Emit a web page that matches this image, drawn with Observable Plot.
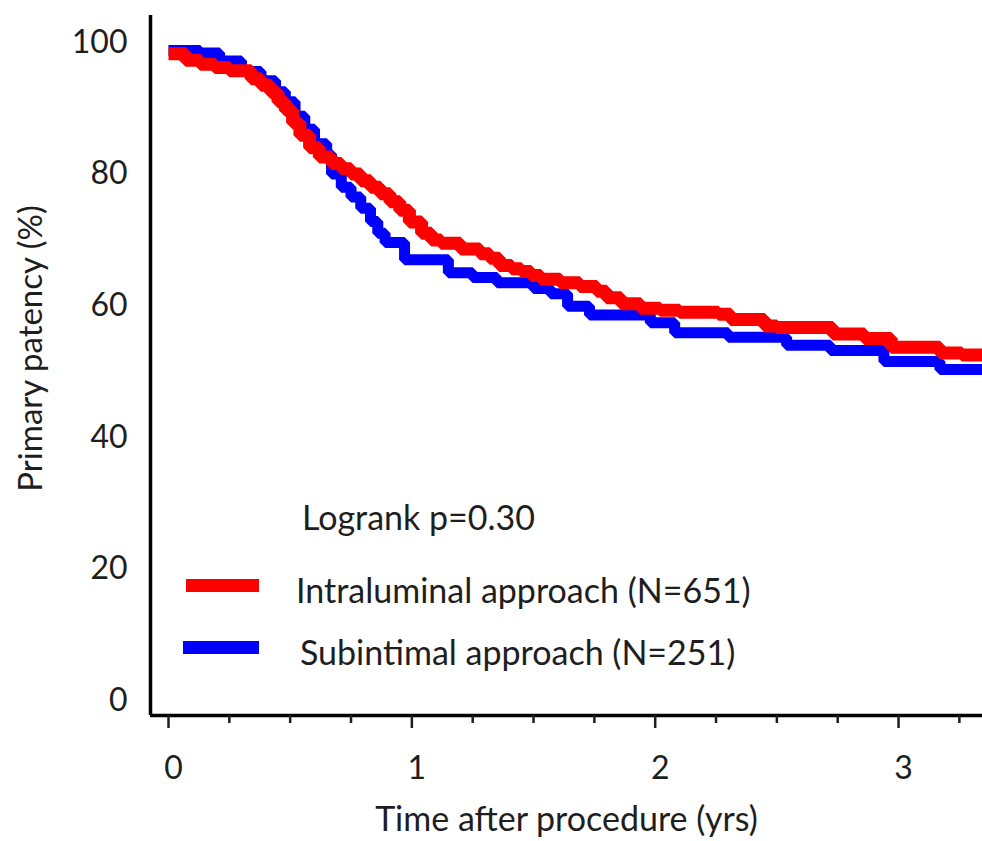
<!DOCTYPE html>
<html><head><meta charset="utf-8">
<script src="https://cdn.jsdelivr.net/npm/d3@7"></script>
<script src="https://cdn.jsdelivr.net/npm/@observablehq/plot@0.6"></script>
<style>
body{margin:0;background:#fff;}
#wrap{position:relative;width:982px;height:841px;font-family:Lato,sans-serif;color:#1e1e1e;}
.lg{position:absolute;font-size:34px;line-height:34px;white-space:nowrap;}
.sw{position:absolute;height:13px;}
</style></head><body><div id="wrap"></div>
<script>
// Intraluminal approach (red): time (yrs) and primary patency (%)
const redT = [0, 0.07, 0.13, 0.19, 0.25, 0.34, 0.38, 0.42, 0.45, 0.48, 0.51, 0.54, 0.58, 0.62, 0.67, 0.71, 0.75, 0.79, 0.83, 0.87, 0.91, 0.95, 0.99, 1.04, 1.08, 1.12, 1.20, 1.28, 1.32, 1.36, 1.41, 1.45, 1.49, 1.53, 1.61, 1.69, 1.76, 1.80, 1.86, 1.94, 2.02, 2.10, 2.26, 2.31, 2.45, 2.50, 2.73, 2.86, 2.97, 3.17, 3.26, 3.345];
const redV = [98.3, 97.3, 96.7, 96.2, 95.7, 94.5, 93.5, 92.4, 91.0, 89.7, 87.8, 85.9, 84.0, 82.6, 81.6, 80.8, 80.0, 79.0, 78.0, 77.0, 75.8, 74.5, 72.7, 71.0, 70.0, 69.5, 68.6, 67.9, 67.2, 66.1, 65.6, 65.2, 64.6, 64.0, 63.5, 62.9, 62.2, 61.2, 60.3, 59.6, 59.3, 59.0, 58.7, 57.9, 56.9, 56.7, 55.7, 55.0, 53.7, 52.8, 52.5, 52.5];
// Subintimal approach (blue)
const blueT = [0, 0.13, 0.21, 0.30, 0.38, 0.44, 0.48, 0.52, 0.56, 0.60, 0.65, 0.67, 0.71, 0.75, 0.79, 0.83, 0.86, 0.89, 0.97, 1.15, 1.25, 1.35, 1.50, 1.57, 1.64, 1.73, 1.98, 2.08, 2.30, 2.54, 2.72, 2.94, 3.17, 3.345];
const blueV = [98.8, 98.4, 97.2, 95.6, 94.2, 92.5, 91.0, 88.8, 86.8, 84.6, 83.0, 80.0, 78.0, 76.5, 74.8, 72.8, 71.0, 69.6, 67.0, 65.0, 64.3, 63.5, 62.6, 61.8, 59.9, 58.6, 57.4, 55.9, 55.2, 54.0, 53.2, 51.5, 50.3, 50.3];

const seriesNames = ["Intraluminal approach (N=651)", "Subintimal approach (N=251)"];
const seriesColors = ["#ff0000", "#0000ff"];
const xTicks = [0, 1, 2, 3];
const xMinorTicks = [0.25, 0.5, 0.75, 1.25, 1.5, 1.75, 2.25, 2.5, 2.75, 3.25];
const yTicks = [0, 20, 40, 60, 80, 100];
const pText = "Logrank p=0.30";
const xLabel = "Time after procedure (yrs)";
const yLabel = "Primary patency (%)";

const xDomain = [-0.074, 3.345];
const yDomain = [-2.28, 104.1];

const red = redT.map((t, i) => ({t, v: redV[i]}));
const blue = blueT.map((t, i) => ({t, v: blueV[i]}));

const lineOpts = {x: "t", y: "v", curve: "step-after", strokeLinejoin: "miter", strokeLinecap: "butt"};

const chart = Plot.plot({
  width: 982, height: 841,
  marginLeft: 150, marginRight: 0, marginTop: 15, marginBottom: 126,
  x: {domain: xDomain},
  y: {domain: yDomain},
  style: {fontFamily: "Lato, sans-serif", fontSize: "32px", color: "#1e1e1e", background: "white"},
  marks: [
    Plot.line(blue, {...lineOpts, stroke: seriesColors[1], strokeWidth: 11}),
    Plot.line(red, {...lineOpts, stroke: seriesColors[0], strokeWidth: 13}),
    Plot.ruleX([xDomain[0]], {stroke: "black", strokeWidth: 3.5}),
    Plot.ruleY([yDomain[0]], {stroke: "black", strokeWidth: 3.5}),
    Plot.axisY({ticks: yTicks, tickSize: 0, tickPadding: 23, label: null, fontSize: 32}),
    Plot.axisX({ticks: xMinorTicks, tickSize: 8, tickFormat: () => "", label: null, strokeWidth: 2.5}),
    Plot.axisX({ticks: xTicks, tickSize: 13, tickFormat: () => "", label: null, strokeWidth: 2.5}),
    Plot.text(xTicks, {x: d => d, frameAnchor: "bottom", dy: 53, dx: 5, lineAnchor: "middle", textAnchor: "middle", fontSize: 32, text: d => String(d)}),
    Plot.text([xLabel], {frameAnchor: "bottom", dy: 105, lineAnchor: "middle", textAnchor: "middle", fontSize: 34}),
    Plot.text([yLabel], {frameAnchor: "left", dx: -119, dy: -17, rotate: -90, lineAnchor: "middle", textAnchor: "middle", fontSize: 33})
  ]
});

const wrap = document.getElementById("wrap");
wrap.appendChild(chart);

function addText(txt, left, centerY) {
  const d = document.createElement("div");
  d.className = "lg"; d.textContent = txt;
  d.style.left = left + "px"; d.style.top = (centerY - 18) + "px";
  wrap.appendChild(d);
}
function addSwatch(color, left, width, top) {
  const d = document.createElement("div");
  d.className = "sw"; d.style.background = color;
  d.style.left = left + "px"; d.style.width = width + "px"; d.style.top = top + "px";
  wrap.appendChild(d);
}
addText(pText, 302, 518);
addSwatch(seriesColors[0], 186, 73, 579);
addText(seriesNames[0], 296, 591);
addSwatch(seriesColors[1], 183, 76, 641);
addText(seriesNames[1], 300, 653);
</script>
</body></html>
